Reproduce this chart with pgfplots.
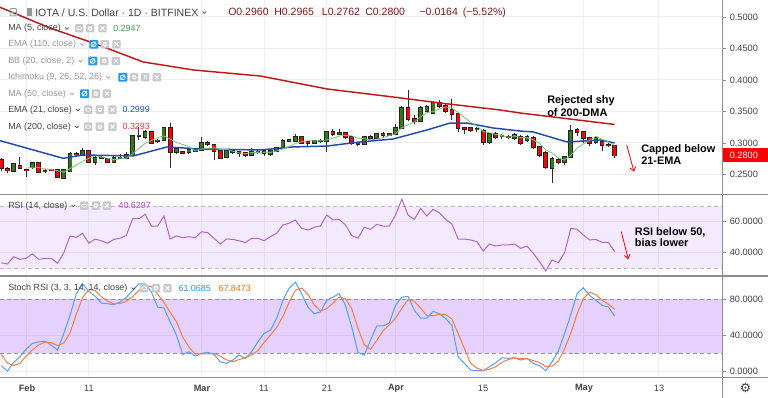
\documentclass[border=0pt]{standalone}
\usepackage{pgfplots}
\pgfplotsset{compat=1.18}
\usepackage{pgfplotstable}
\usepackage{fontspec}
\setmainfont{Liberation Sans}
\newfontfamily\dejavu{DejaVu Sans}
\usetikzlibrary{arrows.meta}

\definecolor{gridc}{RGB}{238,238,241}
\definecolor{sepc}{RGB}{140,140,146}
\definecolor{wick}{RGB}{45,45,45}
\definecolor{upc}{RGB}{56,118,29}
\definecolor{dnc}{RGB}{255,0,0}
\definecolor{edgec}{RGB}{35,35,35}
\definecolor{ma200c}{RGB}{190,25,25}
\definecolor{ema21c}{RGB}{30,75,175}
\definecolor{ma5c}{RGB}{120,195,120}
\definecolor{rsic}{RGB}{180,100,205}
\definecolor{bandc}{RGB}{190,140,245}
\definecolor{rsidash}{RGB}{200,170,212}
\definecolor{stdash}{RGB}{150,140,160}
\definecolor{kc}{RGB}{80,160,250}
\definecolor{dc}{RGB}{245,125,65}
\definecolor{txt}{RGB}{65,65,70}
\definecolor{txtl}{RGB}{150,150,155}
\definecolor{icog}{RGB}{200,200,205}
\definecolor{icob}{RGB}{33,150,243}
\definecolor{ohlc}{RGB}{120,25,25}
\definecolor{vfive}{RGB}{67,160,71}
\definecolor{vema}{RGB}{33,86,200}
\definecolor{vma}{RGB}{229,57,53}
\definecolor{vrsi}{RGB}{171,71,188}
\definecolor{vk}{RGB}{33,150,243}
\definecolor{vd}{RGB}{255,109,0}

\newcommand\fleg{\fontsize{6.7pt}{8pt}\selectfont}
\newcommand\ftit{\fontsize{7.9pt}{9pt}\selectfont}
\newcommand\fax{\fontsize{6.9pt}{8pt}\selectfont}
\newcommand\fann{\fontsize{8.2pt}{9.5pt}\selectfont\bfseries}

\pgfplotstableread{
d o h l c ma5 rsi k dl
-4 0.2730 0.2760 0.2560 0.2603 nan 33.5 6.2 18.8
-3 0.2587 0.2620 0.2520 0.2560 nan 32.7 0.3 9.0
-2 0.2556 0.2680 0.2540 0.2667 nan 37.4 9.9 6.5
-1 0.2635 0.2778 0.2580 0.2603 nan 35.7 16.1 8.8
0 0.2575 0.2590 0.2460 0.2565 0.2600 36.4 24.6 16.9
1 0.2619 0.2700 0.2580 0.2683 0.2616 39.2 30.9 23.9
2 0.2683 0.2700 0.2520 0.2540 0.2612 35.7 32.7 29.4
3 0.2560 0.2580 0.2530 0.2550 0.2588 36.4 33.5 32.4
4 0.2575 0.2590 0.2550 0.2565 0.2581 36.4 29.1 31.8
5 0.2571 0.2580 0.2440 0.2460 0.2560 33.2 23.5 28.7
6 0.2444 0.2590 0.2430 0.2571 0.2537 40.0 42.0 31.5
7 0.2556 0.2860 0.2540 0.2825 0.2594 50.8 62.2 42.6
8 0.2830 0.2850 0.2800 0.2815 0.2647 49.9 86.2 63.5
9 0.2810 0.2920 0.2790 0.2873 0.2709 52.5 97.2 81.9
10 0.2873 0.2890 0.2680 0.2698 0.2756 46.1 88.7 90.7
11 0.2698 0.2790 0.2650 0.2762 0.2795 48.8 83.5 89.8
12 0.2770 0.2790 0.2740 0.2755 0.2781 47.7 75.8 82.7
13 0.2746 0.2760 0.2680 0.2698 0.2757 46.1 75.1 78.1
14 0.2698 0.2790 0.2680 0.2762 0.2735 48.6 74.0 75.0
15 0.2760 0.2820 0.2740 0.2770 0.2749 49.3 76.9 75.3
16 0.2762 0.2860 0.2750 0.2810 0.2759 51.2 82.4 77.8
17 0.2810 0.3130 0.2790 0.3111 0.2830 61.9 89.8 83.0
18 0.3120 0.3259 0.3050 0.3105 0.2912 61.9 97.2 89.8
19 0.3095 0.3200 0.3070 0.3175 0.2994 64.8 97.2 94.7
20 0.3175 0.3190 0.2980 0.3000 0.3040 57.2 88.0 94.1
21 0.3025 0.3070 0.3000 0.3040 0.3086 57.2 71.4 85.5
22 0.3048 0.3260 0.3030 0.3238 0.3112 63.7 70.3 76.6
23 0.3238 0.3317 0.2603 0.2857 0.3062 48.8 54.8 65.5
24 0.2857 0.2930 0.2830 0.2905 0.3008 50.8 40.1 55.1
25 0.2857 0.2880 0.2820 0.2841 0.2976 49.7 18.8 37.9
26 0.2857 0.2920 0.2820 0.2889 0.2946 50.3 21.7 26.9
27 0.2905 0.2920 0.2850 0.2873 0.2873 49.7 16.9 19.1
28 0.2889 0.3095 0.2870 0.3000 0.2902 53.5 19.9 19.5
29 0.3000 0.3030 0.2960 0.2984 0.2917 52.9 21.0 19.3
30 0.2968 0.2990 0.2730 0.2873 0.2924 49.3 18.8 19.9
31 0.2873 0.2890 0.2740 0.2762 0.2898 45.6 10.6 16.8
32 0.2778 0.2900 0.2760 0.2873 0.2898 48.8 8.8 12.7
33 0.2873 0.2880 0.2830 0.2857 0.2870 48.6 12.5 10.6
34 0.2857 0.2870 0.2780 0.2841 0.2841 47.7 18.0 13.1
35 0.2841 0.2860 0.2770 0.2810 0.2829 46.5 14.4 15.0
36 0.2810 0.2920 0.2790 0.2857 0.2848 49.3 21.7 18.0
37 0.2857 0.2890 0.2830 0.2870 0.2847 49.3 32.7 22.9
38 0.2873 0.2900 0.2800 0.2841 0.2844 47.7 42.0 32.1
39 0.2825 0.2900 0.2790 0.2873 0.2850 50.3 45.6 40.1
40 0.2873 0.2940 0.2850 0.2921 0.2872 52.5 58.6 48.7
41 0.2921 0.3060 0.2910 0.3032 0.2907 57.9 78.8 61.0
42 0.3032 0.3070 0.3010 0.3048 0.2943 59.0 92.4 76.6
43 0.3032 0.3140 0.3010 0.3095 0.2994 61.1 99.0 90.1
44 0.3095 0.3110 0.2980 0.3000 0.3019 55.7 86.2 92.5
45 0.3016 0.3030 0.2960 0.3000 0.3035 54.6 71.4 85.5
46 0.3000 0.3050 0.2980 0.3032 0.3035 56.4 64.1 73.9
47 0.3030 0.3070 0.3000 0.3040 0.3033 57.2 65.9 67.1
48 0.3032 0.3190 0.2860 0.3175 0.3049 64.3 78.8 69.6
49 0.3175 0.3220 0.3110 0.3143 0.3078 61.1 82.4 75.7
50 0.3143 0.3220 0.3120 0.3159 0.3110 61.5 86.2 82.5
51 0.3159 0.3180 0.3070 0.3095 0.3122 57.9 73.3 80.6
52 0.3095 0.3110 0.2970 0.3000 0.3114 51.0 49.3 69.6
53 0.3000 0.3020 0.2950 0.2984 0.3076 49.3 21.0 47.9
54 0.2984 0.3110 0.2970 0.3095 0.3067 56.4 18.0 29.4
55 0.3095 0.3130 0.3060 0.3079 0.3051 55.1 34.6 24.5
56 0.3079 0.3160 0.3060 0.3143 0.3060 58.3 50.4 34.3
57 0.3143 0.3180 0.3100 0.3127 0.3086 57.2 50.4 45.1
58 0.3127 0.3160 0.3110 0.3143 0.3117 57.2 53.7 51.5
59 0.3143 0.3300 0.3120 0.3238 0.3146 64.3 73.3 59.1
60 0.3238 0.3580 0.3220 0.3556 0.3241 74.5 82.4 69.8
61 0.3556 0.3841 0.3350 0.3381 0.3289 64.3 83.2 79.6
62 0.3381 0.3450 0.3300 0.3349 0.3333 61.5 67.7 77.8
63 0.3349 0.3580 0.3330 0.3556 0.3416 68.6 59.2 70.0
64 0.3508 0.3600 0.3490 0.3571 0.3483 63.7 59.2 62.0
65 0.3476 0.3660 0.3460 0.3635 0.3498 68.0 66.6 61.7
66 0.3635 0.3690 0.3550 0.3587 0.3540 65.8 64.1 63.3
67 0.3587 0.3620 0.3480 0.3508 0.3571 61.5 58.6 63.1
68 0.3524 0.3698 0.3370 0.3460 0.3552 58.5 51.2 58.0
69 0.3460 0.3490 0.3180 0.3238 0.3486 48.8 16.1 42.0
70 0.3238 0.3260 0.3150 0.3222 0.3403 48.8 8.8 25.4
71 0.3238 0.3260 0.3180 0.3206 0.3327 48.2 1.4 8.8
72 0.3215 0.3250 0.3180 0.3228 0.3271 47.1 0.7 3.6
73 0.3190 0.3220 0.2968 0.3016 0.3182 41.1 0.7 0.9
74 0.3016 0.3160 0.2990 0.3143 0.3163 45.6 5.1 2.2
75 0.3143 0.3180 0.3060 0.3095 0.3138 44.3 9.5 5.1
76 0.3100 0.3140 0.3070 0.3111 0.3119 45.0 15.0 9.9
77 0.3100 0.3130 0.3060 0.3090 0.3091 45.0 14.4 13.0
78 0.3079 0.3160 0.3050 0.3127 0.3113 45.6 15.0 14.8
79 0.3095 0.3120 0.2970 0.3000 0.3085 42.8 12.5 14.0
80 0.3048 0.3130 0.3020 0.3095 0.3085 44.3 14.4 14.0
81 0.3079 0.3110 0.2910 0.2937 0.3050 39.6 8.8 11.9
82 0.2937 0.2960 0.2780 0.2810 0.2994 34.2 6.2 9.8
83 0.2841 0.2870 0.2590 0.2619 0.2892 28.2 0.7 5.2
84 0.2603 0.2770 0.2365 0.2746 0.2841 35.3 10.6 5.8
85 0.2730 0.2760 0.2660 0.2698 0.2762 33.5 22.4 11.2
86 0.2698 0.2800 0.2650 0.2778 0.2730 40.0 42.0 25.0
87 0.2778 0.3286 0.2760 0.3190 0.2806 55.7 63.0 42.5
88 0.3206 0.3240 0.3110 0.3175 0.2917 55.1 86.2 63.7
89 0.3175 0.3190 0.3000 0.3079 0.2984 51.4 92.8 80.7
90 0.3079 0.3090 0.2960 0.3000 0.3044 48.2 84.3 87.8
91 0.3016 0.3110 0.2980 0.3079 0.3105 48.6 78.8 85.3
92 0.3016 0.3050 0.2880 0.2968 0.3060 46.7 73.3 78.8
93 0.2968 0.3000 0.2930 0.2960 0.3017 46.7 71.4 74.5
94 0.2960 0.2965 0.2762 0.2800 0.2961 40.6 61.4 68.7
}\daily

\pgfplotstableread{
d v
-4.19 0.5154
3.8 0.4825
10.7 0.4587
18.7 0.4286
26.7 0.4159
37.4 0.4063
48.1 0.3857
58.6 0.3730
66.1 0.3635
75.7 0.3524
78.9 0.3476
94 0.3294
}\maCC

\pgfplotstableread{
d v
-4.19 0.3037
5.9 0.2757
9.1 0.2810
17.1 0.2794
22.5 0.2937
27.8 0.2905
37.4 0.2889
42.6 0.2937
48.1 0.2952
53.3 0.3016
58.6 0.3063
64.0 0.3206
67.7 0.3317
70.4 0.3317
74.6 0.3238
78.9 0.3190
81.0 0.3175
85.3 0.3048
86.4 0.3016
91.7 0.3048
94.0 0.3000
}\emaXXI

\pgfplotsset{
 panel/.style={
  scale only axis, width=541.5pt,
  xmin=-4.19, xmax=111.15,
  axis line style={draw=none},
  xtick={0,10,28,38,48,59,73,89,101},
  xticklabels={}, yticklabels={},
  xmajorgrids, ymajorgrids,
  major grid style={draw=gridc, line width=0.75pt},
  major tick length=0pt,
 },
 cbody/.style n args={2}{draw=none, mark=none, unbounded coords=discard,
  error bars/y dir=minus, error bars/y explicit, error bars/error mark=none,
  error bars/error bar style={solid, draw=#1, line width=#2}},
}

\newcommand\icobox[2]{\fill[icog, rounded corners=0.8pt] (#1,#2-4.2) rectangle ++(8.4,8.4);}
\newcommand\icoeye[2]{\icobox{#1}{#2}\draw[white, line width=0.5pt] (#1+4.2,#2) ellipse (2.6 and 1.6);}
\newcommand\icogear[2]{\icobox{#1}{#2}\fill[white] (#1+4.2,#2) circle (2.3);\fill[icog] (#1+4.2,#2) circle (1);}
\newcommand\icox[2]{\icobox{#1}{#2}\draw[white, line width=0.7pt] (#1+2.2,#2-2) -- ++(4,4) (#1+2.2,#2+2) -- ++(4,-4);}
\newcommand\icobr[2]{\icobox{#1}{#2}\draw[white, line width=0.6pt] (#1+3.3,#2-2.2) -- ++(0,4.4) (#1+5.1,#2-2.2) -- ++(0,4.4);}
\newcommand\icohide[2]{\fill[icob, rounded corners=0.8pt] (#1,#2-4.4) rectangle ++(9,8.8);\draw[white, line width=0.55pt] (#1+4.5,#2) circle (2.4);\draw[white, line width=0.55pt] (#1+2.3,#2+2.4) -- (#1+6.7,#2-2.4);}
\newcommand\chev[2]{\draw[#2, line width=0.5pt] ([xshift=3pt, yshift=0.6pt]#1.east) -- ++(1.8,1.8) -- ++(1.8,-1.8);}

\begin{document}
\begin{tikzpicture}
\useasboundingbox (0pt,0pt) rectangle (576pt,298.5pt);

% ---------- price panel ----------
\begin{axis}[panel, at={(0pt,152.475pt)}, anchor=south west, height=146.025pt,
  ymin=0.21794, ymax=0.52698, ytick={0.25,0.3,0.35,0.4,0.45,0.5}]
\addplot[cbody={wick}{0.75pt}] table[x=d, y=h, y error minus expr=\thisrow{h}-\thisrow{l}] {\daily};
\addplot[restrict expr to domain={\thisrow{c}-\thisrow{o}}{0:1}, cbody={edgec}{3.5pt},
  error bars/error bar style={shorten <=-0.45pt, shorten >=-0.45pt}]
  table[x=d, y=c, y error minus expr=\thisrow{c}-\thisrow{o}] {\daily};
\addplot[restrict expr to domain={\thisrow{c}-\thisrow{o}}{0:1}, cbody={upc}{2.3pt}]
  table[x=d, y=c, y error minus expr=\thisrow{c}-\thisrow{o}] {\daily};
\addplot[restrict expr to domain={\thisrow{o}-\thisrow{c}}{0:1}, cbody={edgec}{3.5pt},
  error bars/error bar style={shorten <=-0.45pt, shorten >=-0.45pt}]
  table[x=d, y=o, y error minus expr=\thisrow{o}-\thisrow{c}] {\daily};
\addplot[restrict expr to domain={\thisrow{o}-\thisrow{c}}{0:1}, cbody={dnc}{2.3pt}]
  table[x=d, y=o, y error minus expr=\thisrow{o}-\thisrow{c}] {\daily};
\addplot[ma200c, line width=1.1pt, mark=none] table[x=d, y=v] {\maCC};
\addplot[ema21c, line width=1.1pt, mark=none] table[x=d, y=v] {\emaXXI};
\addplot[ma5c, line width=0.6pt, mark=none, unbounded coords=jump] table[x=d, y=ma5] {\daily};
\end{axis}

% ---------- RSI panel ----------
\begin{axis}[panel, at={(0pt,91.5pt)}, anchor=south west, height=60.975pt,
  ymin=24.97, ymax=77.42, ytick={40,60}]
\fill[bandc, fill opacity=0.18] (axis cs:-4.19,30) rectangle (axis cs:111.15,70);
\addplot[rsidash, line width=0.7pt, dash pattern=on 3pt off 2.2pt, mark=none] coordinates {(-4.19,70) (111.15,70)};
\addplot[rsidash, line width=0.7pt, dash pattern=on 3pt off 2.2pt, mark=none] coordinates {(-4.19,30) (111.15,30)};
\addplot[rsic, line width=0.75pt, mark=none] table[x=d, y=rsi] {\daily};
\end{axis}

% ---------- Stoch RSI panel ----------
\begin{axis}[panel, at={(0pt,15.525pt)}, anchor=south west, height=75.975pt,
  ymin=-6.67, ymax=105.9, ytick={0,40,80}]
\fill[bandc, fill opacity=0.4] (axis cs:-4.19,20) rectangle (axis cs:111.15,80);
\addplot[stdash, line width=0.9pt, dash pattern=on 3pt off 2.2pt, mark=none] coordinates {(-4.19,80) (111.15,80)};
\addplot[stdash, line width=0.9pt, dash pattern=on 3pt off 2.2pt, mark=none] coordinates {(-4.19,20) (111.15,20)};
\addplot[kc, line width=0.75pt, mark=none] table[x=d, y=k] {\daily};
\addplot[dc, line width=0.75pt, mark=none] table[x=d, y=dl] {\daily};
\end{axis}

% ---------- overlay (pixel coordinates, y downwards) ----------
\begin{scope}[x=0.75pt, y=-0.75pt, shift={(0pt,298.5pt)}]
% frame lines
\draw[sepc, line width=0.9pt] (0,194.7) -- (768,194.7);
\draw[sepc, line width=0.9pt] (0,276) -- (768,276);
\draw[sepc, line width=0.9pt] (0,377.3) -- (768,377.3);
\draw[sepc, line width=0.75pt] (722,0) -- (722,398);

% right scale
\foreach \yy/\lab in {17/0.5000, 48.5/0.4500, 80/0.4000, 111.5/0.3500, 143/0.3000, 174.5/0.2500,
  221.7/60.0000, 252.7/40.0000, 299.3/80.0000, 335.3/40.0000, 371.3/0.0000}{
  \draw[sepc, line width=0.6pt] (722,\yy) -- (726,\yy);
  \node[anchor=west, inner sep=0pt, font=\fax, text=txt] at (729.5,\yy) {\lab};
}
\fill[dnc] (722.6,148.4) rectangle (768,162);
\node[anchor=west, inner sep=0pt, font=\fax, text=white] at (729.5,155.3) {0.2800};

% date labels
\foreach \xx/\lab in {27/\textbf{Feb}, 89/11, 202/\textbf{Mar}, 264/11, 327/21, 396/\textbf{Apr}, 483/15, 584/\textbf{May}, 659/13}{
  \node[inner sep=0pt, font=\fax, text=txt] at (\xx,388.3) {\lab};
}
\node[inner sep=0pt, font=\dejavu\fontsize{9.5pt}{10pt}\selectfont, text=txt] at (745.5,388.3) {⚙};

% title row
\draw[txtl, line width=0.6pt, rounded corners=0.8pt] (10,8.6) rectangle (16.6,15.8);
\draw[txtl, line width=0.5pt] (10,12.2) -- (16.6,12.2);
\fill[txtl] (26.5,8.4) rectangle (31.5,16.4);
\node[anchor=west, inner sep=0pt, font=\ftit, text=txt] (tt) at (35,12.3) {IOTA / U.S. Dollar · 1D · BITFINEX};
\chev{tt}{txt}
\node[anchor=west, inner sep=0pt, font=\ftit, text=ohlc] at (228,12.3) {O0.2960};
\node[anchor=west, inner sep=0pt, font=\ftit, text=ohlc] at (274,12.3) {H0.2965};
\node[anchor=west, inner sep=0pt, font=\ftit, text=ohlc] at (321.7,12.3) {L0.2762};
\node[anchor=west, inner sep=0pt, font=\ftit, text=ohlc] at (365,12.3) {C0.2800};
\node[anchor=west, inner sep=0pt, font=\ftit, text=ohlc] at (419.3,12.3) {−0.0164};
\node[anchor=west, inner sep=0pt, font=\ftit, text=ohlc] at (462.7,12.3) {(−5.52\%)};

% indicator legend rows
\node[anchor=west, inner sep=0pt, font=\fleg, text=txt] (r1) at (8,28.3) {MA (5, close)}; \chev{r1}{txt}
\icoeye{75}{28.3}\icogear{86}{28.3}\icox{98.3}{28.3}
\node[anchor=west, inner sep=0pt, font=\fleg, text=vfive] at (113,28.3) {0.2947};

\node[anchor=west, inner sep=0pt, font=\fleg, text=txtl] (r2) at (8,44.3) {EMA (110, close)}; \chev{r2}{txtl}
\icohide{89.3}{44.3}\icogear{100.7}{44.3}\icox{112.3}{44.3}

\node[anchor=west, inner sep=0pt, font=\fleg, text=txtl] (r3) at (8,61) {BB (20, close, 2)}; \chev{r3}{txtl}
\icohide{88.3}{61}\icogear{100}{61}\icox{111.7}{61}

\node[anchor=west, inner sep=0pt, font=\fleg, text=txtl] (r4) at (8,77.3) {Ichimoku (9, 26, 52, 26)}; \chev{r4}{txtl}
\icohide{118.3}{77.3}\icogear{130}{77.3}\icobr{141}{77.3}\icox{152.7}{77.3}

\node[anchor=west, inner sep=0pt, font=\fleg, text=txtl] (r5) at (8,93.7) {MA (50, close)}; \chev{r5}{txtl}
\icohide{80}{93.7}\icogear{91.7}{93.7}\icox{102.7}{93.7}

\node[anchor=west, inner sep=0pt, font=\fleg, text=txt] (r6) at (8,109.7) {EMA (21, close)}; \chev{r6}{txt}
\icoeye{84}{109.7}\icogear{95.7}{109.7}\icox{108.3}{109.7}
\node[anchor=west, inner sep=0pt, font=\fleg, text=vema] at (122.3,109.7) {0.2999};

\node[anchor=west, inner sep=0pt, font=\fleg, text=txt] (r7) at (8,126.7) {MA (200, close)}; \chev{r7}{txt}
\icoeye{84}{126.7}\icogear{95.7}{126.7}\icox{108.3}{126.7}
\node[anchor=west, inner sep=0pt, font=\fleg, text=vma] at (122.3,126.7) {0.3293};

\node[anchor=west, inner sep=0pt, font=\fleg, text=txt] (r8) at (8,205.7) {RSI (14, close)}; \chev{r8}{txt}
\icoeye{80}{205.7}\icogear{91.7}{205.7}\icox{102.7}{205.7}
\node[anchor=west, inner sep=0pt, font=\fleg, text=vrsi] at (118.3,205.7) {40.6297};

\node[anchor=west, inner sep=0pt, font=\fleg, text=txt] (r9) at (8,288.3) {Stoch RSI (3, 3, 14, 14, close)}; \chev{r9}{txt}
\icoeye{140}{288.3}\icogear{151.7}{288.3}\icox{163.3}{288.3}
\node[anchor=west, inner sep=0pt, font=\fleg, text=vk] at (178.3,288.3) {61.0685};
\node[anchor=west, inner sep=0pt, font=\fleg, text=vd] at (218.3,288.3) {67.8473};

% annotations
\node[anchor=west, inner sep=0pt, font=\fann] at (547,100.7) {Rejected shy};
\node[anchor=west, inner sep=0pt, font=\fann] at (547,112.3) {of 200-DMA};
\node[anchor=west, inner sep=0pt, font=\fann] at (641,149.3) {Capped below};
\node[anchor=west, inner sep=0pt, font=\fann] at (641,160.3) {21-EMA};
\node[anchor=west, inner sep=0pt, font=\fann] at (634.7,232.3) {RSI below 50,};
\node[anchor=west, inner sep=0pt, font=\fann] at (634.7,243) {bias lower};
\draw[red, line width=0.6pt, -{Straight Barb[length=3pt, width=4.5pt]}] (626.7,145) -- (634,171.7);
\draw[red, line width=0.6pt, -{Straight Barb[length=3pt, width=4.5pt]}] (621.3,231.7) -- (628.3,259.3);
\end{scope}
\end{tikzpicture}
\end{document}
